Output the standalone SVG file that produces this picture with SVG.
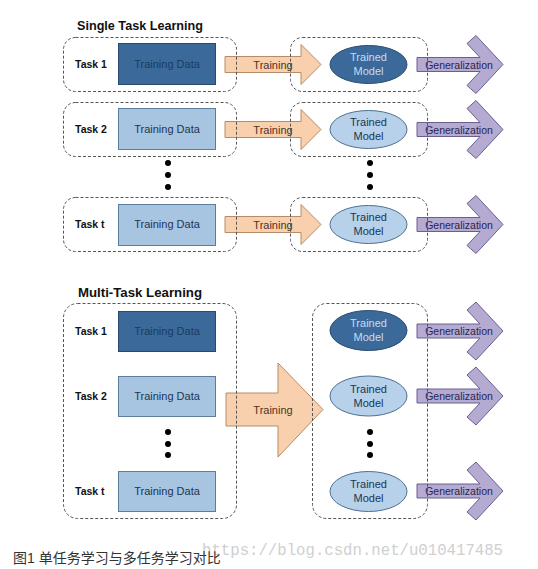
<svg xmlns="http://www.w3.org/2000/svg" width="538" height="569" viewBox="0 0 538 569">
<defs>
<style>
.box{fill:none;stroke:#555;stroke-width:1;stroke-dasharray:3,2}
.dk{fill:#3b6a9a;stroke:#284a6e;stroke-width:1}
.lt{fill:#a7c4e1;stroke:#5d7d9e;stroke-width:1}
.edk{fill:#3b6a9a;stroke:#2a4b6e;stroke-width:1}
.elt{fill:#b7d1ea;stroke:#4f7093;stroke-width:1}
.tr{fill:#f9d0ae;stroke:#b88a66;stroke-width:1}
.gen{fill:#b4aad2;stroke:#6a6090;stroke-width:1}
.t{font-family:"Liberation Sans",Arial,sans-serif;font-size:11px;text-anchor:middle}
.g{font-size:10.5px}
.task{font-family:"Liberation Sans",Arial,sans-serif;font-size:10.5px;font-weight:bold;fill:#111}
.title{font-family:"Liberation Sans",Arial,sans-serif;font-size:13px;font-weight:bold;fill:#111}
.tdk{fill:#1a3a62}
.tlt{fill:#1d3552}
.telk{fill:#c6dbf0}
.ttr{fill:#4a3424}
.tgen{fill:#2a2550}
.dot{fill:#000}
</style>
<path id="genA" d="M417,-7 L480,-7 L467,-21 L476,-29 L503,0 L476,29 L467,21 L480,7 L417,7 Z"/>
<path id="trA" d="M225,-8 L301,-8 L301,-20 L321,0 L301,20 L301,8 L225,8 Z"/>
</defs>
<rect width="538" height="569" fill="#fff"/>

<text class="title" x="77" y="30" textLength="126" lengthAdjust="spacingAndGlyphs">Single Task Learning</text>
<text class="title" x="78" y="297" textLength="124" lengthAdjust="spacingAndGlyphs">Multi-Task Learning</text>

<g id="connectors">
  <g transform="translate(0,64.5)"><use href="#trA" class="tr"/><text class="t ttr" x="273" y="4">Training</text></g>
  <g transform="translate(0,129.5)"><use href="#trA" class="tr"/><text class="t ttr" x="273" y="4">Training</text></g>
  <g transform="translate(0,224.5)"><use href="#trA" class="tr"/><text class="t ttr" x="273" y="4">Training</text></g>
  <g transform="translate(0,64.5)"><use href="#genA" class="gen"/><text class="t g tgen" x="459" y="4">Generalization</text></g>
  <g transform="translate(0,129.5)"><use href="#genA" class="gen"/><text class="t g tgen" x="459" y="4">Generalization</text></g>
  <g transform="translate(0,224.5)"><use href="#genA" class="gen"/><text class="t g tgen" x="459" y="4">Generalization</text></g>
  <path class="tr" d="M226,393 L278,393 L278,363 L323,409.5 L278,457 L278,426 L226,426 Z"/>
  <text class="t ttr" x="273" y="413.5">Training</text>
  <g transform="translate(0,331)"><use href="#genA" class="gen"/><text class="t g tgen" x="459" y="4">Generalization</text></g>
  <g transform="translate(0,396)"><use href="#genA" class="gen"/><text class="t g tgen" x="459" y="4">Generalization</text></g>
  <g transform="translate(0,491)"><use href="#genA" class="gen"/><text class="t g tgen" x="459" y="4">Generalization</text></g>
</g>

<g id="st-task1">
  <rect class="box" x="63.5" y="37.5" width="173" height="54" rx="12"/>
  <text class="task" x="75" y="68">Task 1</text>
  <rect class="dk" x="118.5" y="43.5" width="97" height="41"/>
  <text class="t tdk" x="167" y="68">Training Data</text>
</g>
<g id="st-model1">
  <rect class="box" x="290.5" y="37.5" width="137" height="54" rx="12"/>
  <ellipse class="edk" cx="368.5" cy="64.5" rx="38.5" ry="19"/>
  <text class="t telk" x="368.5" y="61">Trained</text>
  <text class="t telk" x="368.5" y="75">Model</text>
</g>
<g id="st-task2">
  <rect class="box" x="63.5" y="102.5" width="173" height="54" rx="12"/>
  <text class="task" x="75" y="133">Task 2</text>
  <rect class="lt" x="118.5" y="108.5" width="97" height="41"/>
  <text class="t tlt" x="167" y="133">Training Data</text>
</g>
<g id="st-model2">
  <rect class="box" x="290.5" y="102.5" width="137" height="54" rx="12"/>
  <ellipse class="elt" cx="368.5" cy="129.5" rx="38.5" ry="19"/>
  <text class="t tlt" x="368.5" y="126">Trained</text>
  <text class="t tlt" x="368.5" y="140">Model</text>
</g>
<g id="st-dots">
  <circle class="dot" cx="168" cy="163" r="3"/><circle class="dot" cx="168" cy="175" r="3"/><circle class="dot" cx="168" cy="187" r="3"/>
  <circle class="dot" cx="370" cy="163" r="3"/><circle class="dot" cx="370" cy="175" r="3"/><circle class="dot" cx="370" cy="187" r="3"/>
</g>
<g id="st-taskt">
  <rect class="box" x="63.5" y="197.5" width="173" height="54" rx="12"/>
  <text class="task" x="75" y="228">Task t</text>
  <rect class="lt" x="118.5" y="204.5" width="97" height="41"/>
  <text class="t tlt" x="167" y="228">Training Data</text>
</g>
<g id="st-modelt">
  <rect class="box" x="290.5" y="197.5" width="137" height="54" rx="12"/>
  <ellipse class="elt" cx="368.5" cy="224.5" rx="38.5" ry="19"/>
  <text class="t tlt" x="368.5" y="221">Trained</text>
  <text class="t tlt" x="368.5" y="235">Model</text>
</g>

<g id="mt-tasks">
  <rect class="box" x="63.5" y="303.5" width="173" height="215" rx="14"/>
  <text class="task" x="75" y="335">Task 1</text>
  <rect class="dk" x="118.5" y="311.5" width="97" height="40"/>
  <text class="t tdk" x="167" y="335">Training Data</text>
  <text class="task" x="75" y="400">Task 2</text>
  <rect class="lt" x="118.5" y="376.5" width="97" height="40"/>
  <text class="t tlt" x="167" y="400">Training Data</text>
  <circle class="dot" cx="168" cy="432" r="3"/><circle class="dot" cx="168" cy="444" r="3"/><circle class="dot" cx="168" cy="455" r="3"/>
  <text class="task" x="75" y="495">Task t</text>
  <rect class="lt" x="118.5" y="471.5" width="97" height="40"/>
  <text class="t tlt" x="167" y="495">Training Data</text>
</g>
<g id="mt-models">
  <rect class="box" x="312.5" y="303.5" width="115" height="215" rx="14"/>
  <ellipse class="edk" cx="368.5" cy="330.5" rx="38.5" ry="20"/>
  <text class="t telk" x="368.5" y="327">Trained</text>
  <text class="t telk" x="368.5" y="341">Model</text>
  <ellipse class="elt" cx="368.5" cy="396" rx="38.5" ry="20"/>
  <text class="t tlt" x="368.5" y="392.5">Trained</text>
  <text class="t tlt" x="368.5" y="406.5">Model</text>
  <circle class="dot" cx="370" cy="432" r="3"/><circle class="dot" cx="370" cy="444" r="3"/><circle class="dot" cx="370" cy="455" r="3"/>
  <ellipse class="elt" cx="368.5" cy="491.5" rx="38.5" ry="20"/>
  <text class="t tlt" x="368.5" y="488">Trained</text>
  <text class="t tlt" x="368.5" y="502">Model</text>
</g>

<text x="202" y="555" font-family="'Liberation Mono',monospace" font-size="16" fill="#cfcfcf" textLength="301" lengthAdjust="spacingAndGlyphs">https://blog.csdn.net/u010417485</text>
<text x="13" y="563" font-family="'Liberation Sans','Noto Sans CJK SC',sans-serif" font-size="14" fill="#333">图1 单任务学习与多任务学习对比</text>
</svg>
